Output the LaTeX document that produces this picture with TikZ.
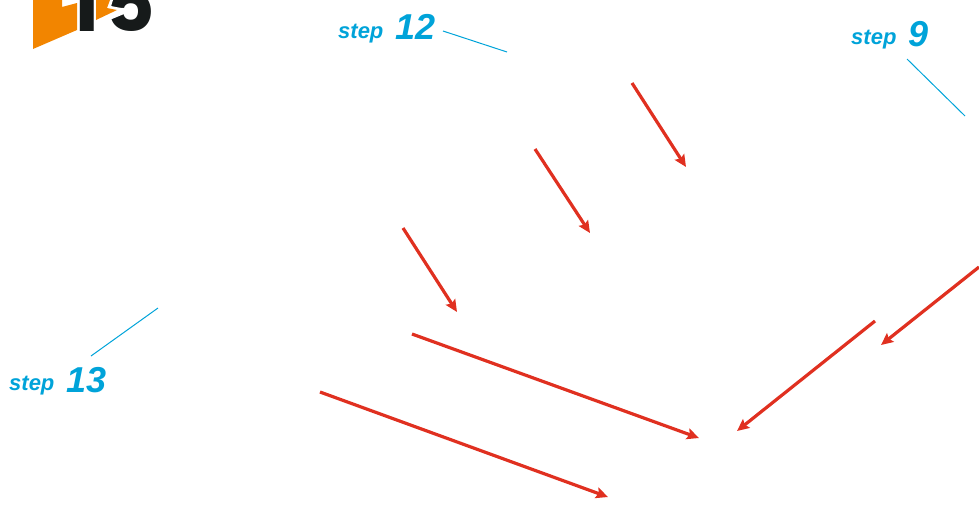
\documentclass[tikz,border=0pt]{standalone}
\usepackage{fontspec}
\setmainfont{Liberation Sans}
\newfontfamily\logofont{Poppins}
\usetikzlibrary{arrows.meta}
\definecolor{stepblue}{HTML}{00A3D9}
\definecolor{flowred}{HTML}{E03020}
\definecolor{logoorange}{HTML}{F28500}
\definecolor{logoblack}{HTML}{161A1A}
\newcommand{\stepnum}[2]{\raisebox{-#2pt}{\fontsize{36}{36}\selectfont #1}}
\begin{document}
\begin{tikzpicture}[
    x=1pt,
    y=-1pt,
    steplabel/.style={anchor=base west, inner sep=0pt, text=stepblue, font=\fontsize{22}{22}\selectfont\bfseries\itshape},
    leader/.style={draw=stepblue, line width=1pt},
    flow/.style={draw=flowred, line width=3.2pt, -{Stealth[length=12pt, width=11pt, inset=2pt]}},
    logodigit/.style={anchor=base west, inner sep=0pt, text=logoblack, font=\fontsize{78}{78}\logofont\bfseries},
    logopart/.style={fill=logoorange}
]
    \useasboundingbox (0,0) rectangle (979,504);

    % logo
    \node[logodigit] (logoone) at (70,31) {1};
    \node[logodigit] (logofive) at (104,31) {5};
    \fill[white] (100,0) -- (113,0) -- (111,6) -- (126,9) -- (124,14) -- (100,24) -- cycle;
    \fill[logopart] (33,0) -- (62,0) -- (62,7) -- (77,3) -- (77,30) -- (33,49) -- cycle;
    \fill[logopart] (96,0) -- (110,0) -- (107,8) -- (117,10) -- (96,20) -- cycle;

    % step labels
    \node[steplabel] (step12) at (338,38) {step\hspace{12pt}\stepnum{12}{1}};
    \node[steplabel] (step9) at (851,44) {step\hspace{12pt}\stepnum{9}{2}};
    \node[steplabel] (step13) at (9,390) {step\hspace{12pt}\stepnum{13}{2}};

    \coordinate (lead12a) at (443,31);
    \coordinate (lead12b) at (507,52);
    \coordinate (lead9a) at (907,59);
    \coordinate (lead9b) at (965,116);
    \coordinate (lead13a) at (91,356);
    \coordinate (lead13b) at (158,308);

    \draw[leader] (lead12a) -- (lead12b);
    \draw[leader] (lead9a) -- (lead9b);
    \draw[leader] (lead13a) -- (lead13b);

    % red arrows
    \coordinate (a1) at (632,83);
    \coordinate (b1) at (686,167);
    \coordinate (a2) at (535,149);
    \coordinate (b2) at (590,233);
    \coordinate (a3) at (403,228);
    \coordinate (b3) at (457,312);
    \coordinate (a4) at (412,334);
    \coordinate (b4) at (699,438);
    \coordinate (a5) at (320,392);
    \coordinate (b5) at (608,497);
    \coordinate (a6) at (875,321);
    \coordinate (b6) at (737,431);
    \coordinate (a7) at (979,267);
    \coordinate (b7) at (881,345);

    \foreach \p in {1,...,7}{
        \draw[flow] (a\p) -- (b\p);
    }
\end{tikzpicture}
\end{document}
